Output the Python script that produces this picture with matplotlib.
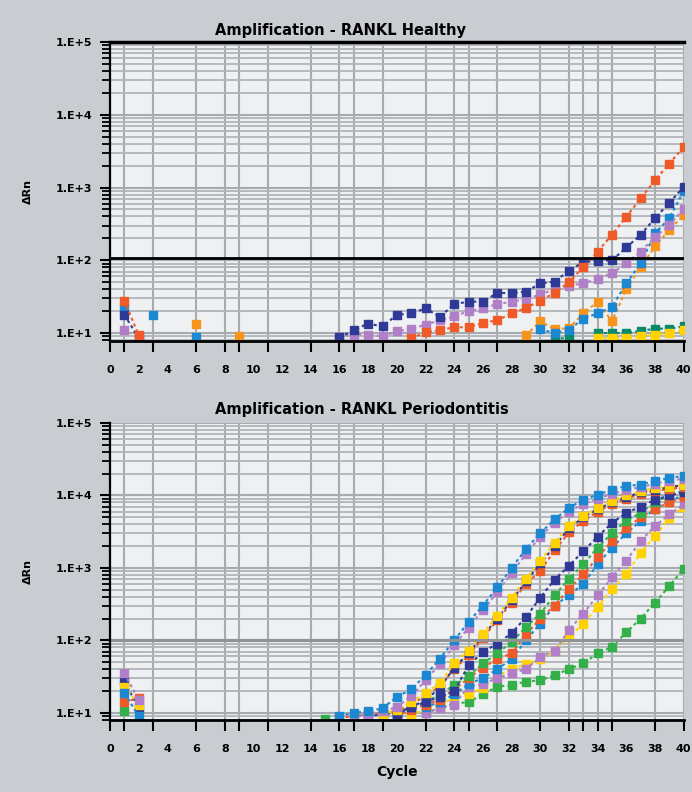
import numpy as np
import matplotlib.pyplot as plt

CYCLES = np.arange(1, 41)

# cycles where the (aliased) vertical grid lines / tick marks sit
grid_cycles = [0, 1, 3, 6, 8, 9, 11, 14, 16, 17, 19, 22, 24, 25, 27, 30, 32, 33, 34, 35, 38, 40]
label_cycles = list(range(0, 41, 2))
y_decades = [1e1, 1e2, 1e3, 1e4, 1e5]
y_labels = ["1.E+1", "1.E+2", "1.E+3", "1.E+4", "1.E+5"]

titles = ["Amplification - RANKL Healthy", "Amplification - RANKL Periodontitis"]
thresholds = [107, 100]

# ---- Healthy (delta Rn per cycle) ----
h_red = {1: 28, 2: 9.3, 21: 8.5, 22: 10.2, 23: 11, 24: 12, 25: 12, 26: 13.8, 27: 15, 28: 18.6,
         29: 22, 30: 28, 31: 35.5, 32: 50, 33: 81, 34: 132, 35: 224, 36: 398, 37: 708,
         38: 1259, 39: 2138, 40: 3631}
h_navy = {1: 17.8, 2: 8.5, 16: 8.7, 17: 11, 18: 13.5, 19: 12.3, 20: 17.8, 21: 18.6, 22: 21.9,
          23: 16.6, 24: 25, 25: 27, 26: 27, 27: 35.5, 28: 35.5, 29: 37, 30: 48, 31: 51, 32: 72,
          33: 95, 34: 98, 35: 100, 36: 150, 37: 224, 38: 380, 39: 617, 40: 1023}
h_blue = {1: 21.9, 3: 17.8, 6: 8.9, 30: 11.2, 31: 10, 32: 11, 33: 15.8, 34: 18.6, 35: 22.9,
          36: 48, 37: 91, 38: 234, 39: 380, 40: 900}
h_purple = {1: 11, 16: 8.9, 17: 9.5, 18: 9.5, 19: 9.0, 20: 10.5, 21: 11.5, 22: 13, 23: 15,
            24: 17, 25: 20, 26: 22, 27: 25, 28: 27, 29: 29, 30: 34, 31: 40, 32: 45, 33: 48,
            34: 56, 35: 66, 36: 91, 37: 132, 38: 209, 39: 302, 40: 513}
h_orange = {6: 13.5, 9: 9, 29: 9.3, 30: 14.5, 31: 11.2, 32: 11.7, 33: 18.6, 34: 27, 35: 14.5,
            36: 40, 37: 81, 38: 155, 39: 263, 40: 417}
h_teal = {31: 8.0, 32: 8.9, 34: 10, 35: 10, 36: 10, 37: 10.7, 38: 11.5, 39: 11.5, 40: 12.3}
h_yellow = {34: 8.5, 35: 8.5, 36: 8.5, 37: 9, 38: 9.5, 39: 10, 40: 11}

# ---- Periodontitis ----
p_blue1 = {1: 18.6, 2: 9, 16: 9, 17: 10, 18: 10.5, 19: 11.5, 20: 16.6, 21: 21, 22: 33, 23: 56,
           24: 100, 25: 178, 26: 302, 27: 537, 28: 1000, 29: 1820, 30: 3020, 31: 4677,
           32: 6761, 33: 8710, 34: 10233, 35: 12023, 36: 13500, 37: 14125, 38: 16000,
           39: 17378, 40: 18620}
p_purple1 = {1: 35, 2: 15, 17: 9, 18: 9.5, 19: 10.5, 20: 12, 21: 17, 22: 28, 23: 47, 24: 85,
             25: 150, 26: 260, 27: 460, 28: 850, 29: 1550, 30: 2700, 31: 4200, 32: 6000,
             33: 7600, 34: 9000, 35: 10500, 36: 12000, 37: 13000, 38: 14500, 39: 16000, 40: 17000}
p_yellow1 = {1: 23, 2: 13, 19: 9.5, 20: 11, 21: 14, 22: 18.6, 23: 25.7, 24: 48, 25: 72, 26: 123,
             27: 219, 28: 389, 29: 708, 30: 1259, 31: 2239, 32: 3802, 33: 5129, 34: 6761,
             35: 8318, 36: 10000, 37: 11500, 38: 12600, 39: 13183, 40: 14000}
p_red1 = {1: 14, 2: 16, 16: 8.5, 17: 9, 18: 9.5, 19: 10, 20: 10.5, 21: 13, 22: 17, 23: 23,
          24: 40, 25: 62, 26: 107, 27: 190, 28: 330, 29: 600, 30: 912, 31: 1738, 32: 3090,
          33: 4467, 34: 6000, 35: 7600, 36: 9000, 37: 10500, 38: 11500, 39: 12300, 40: 13000}
p_navy1 = {1: 27, 2: 11.7, 18: 9, 19: 9.5, 20: 10, 21: 12, 22: 15, 23: 22, 24: 42, 25: 66,
           26: 115, 27: 200, 28: 355, 29: 650, 30: 1150, 31: 2000, 32: 3500, 33: 5000,
           34: 6500, 35: 8000, 36: 9500, 37: 11000, 38: 12000, 39: 13000, 40: 14000}
p_navy2 = {20: 9.5, 21: 12, 22: 14, 23: 16.6, 24: 20, 25: 45, 26: 69, 27: 90, 28: 125, 29: 209,
           30: 389, 31: 690, 32: 1072, 33: 1698, 34: 2700, 35: 4169, 36: 5754, 37: 7000,
           38: 8710, 39: 10000, 40: 11000}
p_green1 = {1: 10.5, 20: 10, 21: 12, 22: 14, 23: 18, 24: 24, 25: 32, 26: 48, 27: 66, 28: 95,
            29: 151, 30: 234, 31: 417, 32: 708, 33: 1122, 34: 1905, 35: 3020, 36: 4500,
            37: 5754, 38: 8000, 39: 10233, 40: 11500}
p_red2 = {20: 9, 21: 11, 22: 13, 23: 15, 24: 21, 25: 30, 26: 42, 27: 55, 28: 66, 29: 120,
          30: 200, 31: 302, 32: 513, 33: 813, 34: 1400, 35: 2344, 36: 3500, 37: 5000, 38: 6500,
          39: 8000, 40: 9500}
p_blue2 = {20: 9.5, 22: 12, 23: 14, 24: 18, 25: 25, 26: 30, 27: 40, 28: 55, 29: 100, 30: 170,
           31: 302, 32: 417, 33: 603, 34: 1122, 35: 1905, 36: 3000, 37: 4500, 38: 6500,
           39: 8500, 40: 10000}
p_purple2 = {20: 8.5, 22: 10, 23: 11.5, 24: 13, 25: 23, 26: 25, 27: 30, 28: 35, 29: 40, 30: 59,
             31: 72, 32: 138, 33: 234, 34: 417, 35: 741, 36: 1259, 37: 2344, 38: 3802,
             39: 5500, 40: 7500}
p_yellow2 = {21: 9.5, 22: 11, 23: 13, 24: 16, 25: 18, 26: 22, 27: 32, 28: 40, 29: 47, 30: 56,
             31: 72, 32: 112, 33: 170, 34: 288, 35: 513, 36: 813, 37: 1622, 38: 2754,
             39: 4898, 40: 7000}
p_green2 = {15: 8.3, 22: 10, 23: 11.5, 24: 13.5, 25: 14, 26: 18, 27: 23, 28: 24, 29: 27, 30: 28,
            31: 33, 32: 40, 33: 48, 34: 66, 35: 81, 36: 129, 37: 200, 38: 331, 39: 562, 40: 977}

RED, NAVY, BLUE, PURPLE = "#ef5a28", "#2e3a96", "#1c88d2", "#b07fc7"
ORANGE, TEAL, YELLOW, GREEN = "#f7941d", "#0b8a6a", "#ffd200", "#33b04a"

healthy = [(h_teal, TEAL), (h_yellow, YELLOW), (h_orange, ORANGE), (h_blue, BLUE),
           (h_purple, PURPLE), (h_navy, NAVY), (h_red, RED)]
perio = [(p_green2, GREEN), (p_yellow2, YELLOW), (p_purple2, PURPLE), (p_blue2, BLUE),
         (p_red2, RED), (p_green1, GREEN), (p_navy2, NAVY), (p_red1, RED), (p_navy1, NAVY),
         (p_yellow1, YELLOW), (p_purple1, PURPLE), (p_blue1, BLUE)]


def to_array(d):
    return np.array([d.get(c, np.nan) for c in CYCLES], dtype=float)


fig = plt.figure(figsize=(6.92, 7.92), dpi=100, facecolor="#c9cdd1")
ax1 = fig.add_axes([0.159, 0.5694, 0.829, 0.3775])
ax2 = fig.add_axes([0.159, 0.0909, 0.829, 0.375])

for ax, series, ylo in [(ax1, healthy, 10 ** 0.89), (ax2, perio, 10 ** 0.9)]:
    ax.set_facecolor("#eef0f1")
    ax.set_yscale("log")
    ax.set_xlim(0, 40)
    ax.set_ylim(ylo, 1e5)

    ax.set_xticks(label_cycles)
    ax.set_xticklabels([str(c) for c in label_cycles], fontsize=8, fontweight="bold")
    ax.set_xticks(grid_cycles, minor=True)
    ax.xaxis.remove_overlapping_locs = False
    ax.tick_params(axis="x", which="major", length=0, pad=17)
    ax.tick_params(axis="x", which="minor", length=8, width=1.5, color="black")

    ax.set_yticks(y_decades)
    ax.set_yticklabels(y_labels, fontsize=8, fontweight="bold")
    ax.tick_params(axis="y", which="major", length=7, width=1.5, pad=6)
    ax.tick_params(axis="y", which="minor", length=6, width=1.3)

    ax.grid(True, which="major", axis="y", color="#a7abaf", lw=1.5)
    ax.grid(True, which="minor", axis="y", color="#b0b4b8", lw=1.3)
    ax.grid(True, which="minor", axis="x", color="#a7abaf", lw=1.5)
    ax.set_axisbelow(True)

    ax.spines["right"].set_visible(False)
    ax.spines["left"].set_linewidth(1.6)
    ax.spines["bottom"].set_linewidth(2)

    for data, col in series:
        ax.plot(CYCLES, to_array(data), color=col, lw=1.5, ls=(0, (1.5, 1.5)),
                marker="s", ms=5.5, mec=col, mfc=col)

    ax.set_ylabel("\u0394Rn", fontsize=8, fontweight="bold", labelpad=16)

ax1.axhline(thresholds[0], color="black", lw=2)
ax1.spines["top"].set_linewidth(2.5)
ax2.axhline(thresholds[1], color="#8f9397", lw=2.2)
ax2.spines["top"].set_visible(False)

fig.text(215 / 692, 1 - 30 / 792, titles[0], fontsize=10.5, fontweight="bold", ha="left", va="center")
fig.text(215 / 692, 1 - 410 / 792, titles[1], fontsize=10.5, fontweight="bold", ha="left", va="center")
ax2.set_xlabel("Cycle", fontsize=10, fontweight="bold", labelpad=8)

fig.savefig("out.png", dpi=100, facecolor=fig.get_facecolor())
